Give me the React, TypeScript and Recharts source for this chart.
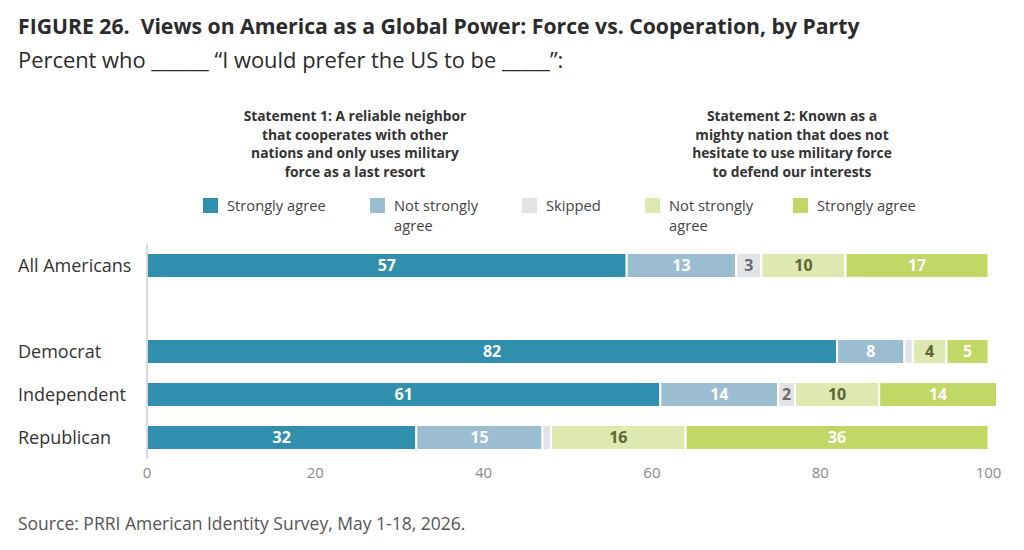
import React from "react";
import { BarChart, Bar, XAxis, YAxis, LabelList } from "recharts";

const FONT = "'Open Sans', 'Noto Sans', sans-serif";

// rows, the blank one is the spacer under "All Americans"
const groups = ["All Americans", "", "Democrat", "Independent", "Republican"];

const s1Strong = [57, null, 82, 61, 32];
const s1NotStrong = [13, null, 8, 14, 15];
const skipped = [3, null, 1, 2, 1];
const s2NotStrong = [10, null, 4, 10, 16];
const s2Strong = [17, null, 5, 14, 36];

const xTicks = [0, 20, 40, 60, 80, 100];

const series = [
  { key: "s1Strong", name: "Strongly agree", color: "#2f8fac", text: "#ffffff", values: s1Strong },
  { key: "s1NotStrong", name: "Not strongly agree", color: "#9bbdd2", text: "#ffffff", values: s1NotStrong },
  { key: "skipped", name: "Skipped", color: "#e2e3e6", text: "#6a6a6a", values: skipped },
  { key: "s2NotStrong", name: "Not strongly agree", color: "#dde9b1", text: "#5e6435", values: s2NotStrong },
  { key: "s2Strong", name: "Strongly agree", color: "#c1d866", text: "#ffffff", values: s2Strong },
];

const data = groups.map((g, i) => {
  const row: Record<string, any> = { group: g || `gap${i}` };
  series.forEach((s) => {
    row[s.key] = s.values[i];
  });
  return row;
});

// legend item left edges
const legendX = [203, 370, 522, 645, 793];

function CategoryTick({ y, payload }: any) {
  const label = String(payload.value).startsWith("gap") ? "" : payload.value;
  return (
    <text x={18} y={y} dy={6} textAnchor="start" fontSize={18} fill="#333" fontFamily={FONT}>
      {label}
    </text>
  );
}

function valueLabel(color: string) {
  return (props: any) => {
    const { x, y, width, height, value } = props;
    if (value == null || value < 2) return null;
    return (
      <text
        x={x + width / 2}
        y={y + height / 2}
        dy={5.5}
        textAnchor="middle"
        fontSize={16}
        fontWeight={700}
        fill={color}
        fontFamily={FONT}
      >
        {value}
      </text>
    );
  };
}

function Legend() {
  return (
    <>
      {series.map((s, i) => {
        const [a, b] = s.name.startsWith("Not strongly") ? ["Not strongly", "agree"] : [s.name, ""];
        return (
          <div
            key={s.key}
            style={{ position: "absolute", left: legendX[i], top: 198, display: "flex", alignItems: "flex-start" }}
          >
            <div style={{ width: 15, height: 15, background: s.color, marginRight: 9 }} />
            <div style={{ fontSize: 14.7, lineHeight: "20px", color: "#444", marginTop: -3 }}>
              {a}
              {b && <br />}
              {b}
            </div>
          </div>
        );
      })}
    </>
  );
}

const headStyle: React.CSSProperties = {
  position: "absolute",
  top: 107,
  width: 280,
  textAlign: "center",
  fontSize: 13.8,
  fontWeight: 700,
  lineHeight: "18.5px",
  color: "#333",
};

export default function App() {
  return (
    <div
      style={{
        position: "absolute",
        left: 0,
        top: 0,
        width: 1024,
        height: 550,
        background: "#fff",
        fontFamily: FONT,
        overflow: "hidden",
      }}
    >
      <div style={{ position: "absolute", left: 18, top: 11, fontSize: 21.2, fontWeight: 700, color: "#2b2b2b", whiteSpace: "nowrap" }}>
        FIGURE 26.&nbsp; Views on America as a Global Power: Force vs. Cooperation, by Party
      </div>
      <div style={{ position: "absolute", left: 18, top: 45, fontSize: 21.9, color: "#2b2b2b", whiteSpace: "nowrap" }}>
        Percent who ______ “I would prefer the US to be _____”:
      </div>

      <div style={{ ...headStyle, left: 215 }}>
        Statement 1: A reliable neighbor
        <br />
        that cooperates with other
        <br />
        nations and only uses military
        <br />
        force as a last resort
      </div>
      <div style={{ ...headStyle, left: 652 }}>
        Statement 2: Known as a
        <br />
        mighty nation that does not
        <br />
        hesitate to use military force
        <br />
        to defend our interests
      </div>

      <Legend />

      <div style={{ position: "absolute", left: 0, top: 0 }}>
        <BarChart
          width={1024}
          height={550}
          data={data}
          layout="vertical"
          margin={{ top: 244, right: 27, bottom: 61, left: 18 }}
        >
          <XAxis
            type="number"
            domain={[0, 101]}
            ticks={xTicks}
            axisLine={false}
            tickLine={false}
            height={30}
            tick={{ fontSize: 15, fill: "#8a8a8a", fontFamily: FONT }}
          />
          <YAxis
            type="category"
            dataKey="group"
            width={129}
            tickLine={false}
            axisLine={{ stroke: "#d9d9d9", strokeWidth: 2 }}
            tick={<CategoryTick />}
            interval={0}
          />
          {series.map((s) => (
            <Bar
              key={s.key}
              dataKey={s.key}
              name={s.name}
              stackId="a"
              fill={s.color}
              stroke="#fff"
              strokeWidth={2}
              barSize={25}
              isAnimationActive={false}
            >
              <LabelList dataKey={s.key} content={valueLabel(s.text)} />
            </Bar>
          ))}
        </BarChart>
      </div>

      <div style={{ position: "absolute", left: 18, top: 511, fontSize: 17.5, color: "#555", whiteSpace: "nowrap" }}>
        Source: PRRI American Identity Survey, May 1-18, 2026.
      </div>
    </div>
  );
}
